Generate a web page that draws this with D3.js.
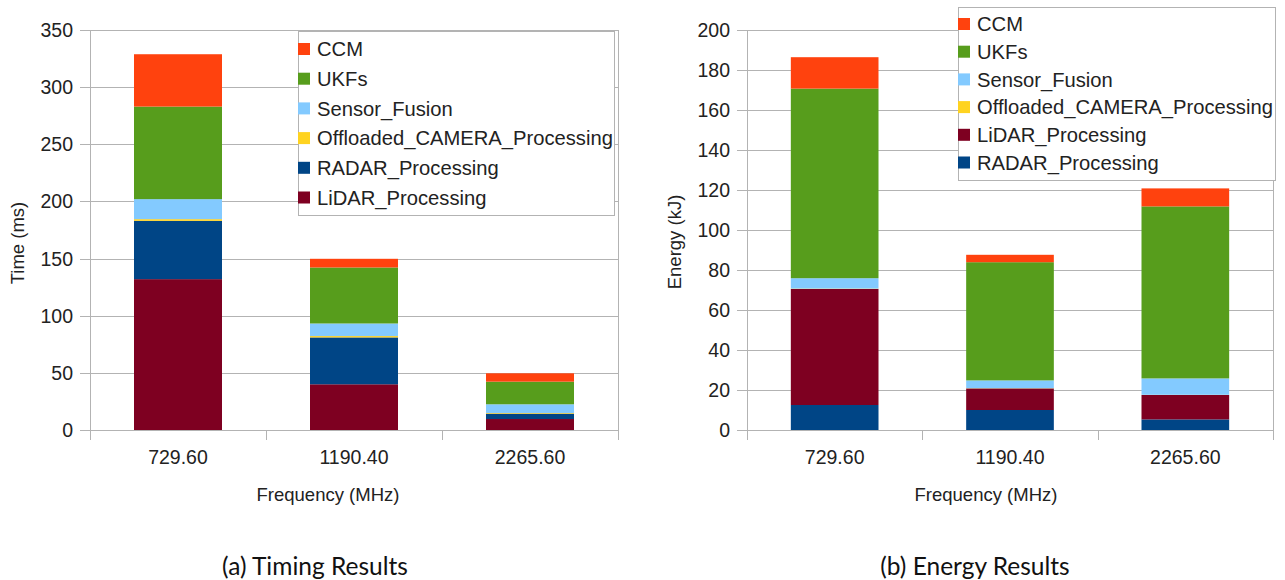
<!DOCTYPE html>
<html>
<head>
<meta charset="utf-8">
<script src="https://cdn.jsdelivr.net/npm/d3@7"></script>
<style>
  html, body { margin: 0; padding: 0; background: #fff; }
  svg { display: block; }
  .chart text { font-family: "Liberation Sans", Arial, sans-serif; fill: #222; }
  .caption { font-family: Lato, "Open Sans", sans-serif; fill: #111; }
</style>
</head>
<body>
<svg id="fig" width="1285" height="580"></svg>
<script>
// Frequencies shared by both panels
const frequencies = ["729.60", "1190.40", "2265.60"];

// (a) execution time per stage, ms
const timeLiDAR   = [132, 40, 9.6];
const timeRADAR   = [51, 41, 4.7];
const timeCamera  = [1.5, 1.2, 0.6];
const timeFusion  = [17.5, 11, 7.6];
const timeUKF     = [81, 49, 19.8];
const timeCCM     = [45.8, 7.6, 7.3];
const timeTicks   = [0, 50, 100, 150, 200, 250, 300, 350];

// (b) energy per stage, kJ
const energyRADAR  = [12.5, 10, 5.3];
const energyLiDAR  = [58, 10.8, 12.2];
const energyCamera = [0.2, 0.1, 0.1];
const energyFusion = [5.2, 3.9, 8.2];
const energyUKF    = [94.8, 59.1, 86];
const energyCCM    = [15.7, 3.7, 9];
const energyTicks  = [0, 20, 40, 60, 80, 100, 120, 140, 160, 180, 200];

const colors = {
  "CCM": "#ff420e",
  "UKFs": "#579d1c",
  "Sensor_Fusion": "#83caff",
  "Offloaded_CAMERA_Processing": "#ffd320",
  "RADAR_Processing": "#004586",
  "LiDAR_Processing": "#7e0021"
};

const svg = d3.select("#fig");
const grid = "#b3b3b3";

function drawPanel(cfg) {
  const g = svg.append("g").attr("class", "chart");
  const x = d3.scaleBand().domain(frequencies)
    .range([cfg.left, cfg.right]).paddingInner(0.5).paddingOuter(0.25);
  const y = d3.scaleLinear().domain([0, cfg.max]).range([cfg.bottom, cfg.top]);

  // horizontal grid lines, extended left as tick marks
  g.selectAll("line.grid").data(cfg.ticks).join("line")
    .attr("x1", cfg.left - 10).attr("x2", cfg.right)
    .attr("y1", d => Math.round(y(d)) + 0.5).attr("y2", d => Math.round(y(d)) + 0.5)
    .attr("stroke", grid).attr("stroke-width", 1);

  // y tick labels
  g.selectAll("text.ytick").data(cfg.ticks).join("text")
    .attr("x", cfg.left - 17).attr("y", d => y(d))
    .attr("dy", "0.36em").attr("text-anchor", "end")
    .style("font-size", "19.5px").text(d => d);

  // category boundaries on x axis
  const step = x.step();
  const bounds = d3.range(frequencies.length + 1).map(i => cfg.left + i * step);
  g.selectAll("line.xtick").data(bounds).join("line")
    .attr("x1", d => Math.round(d) + 0.5).attr("x2", d => Math.round(d) + 0.5)
    .attr("y1", cfg.bottom).attr("y2", cfg.bottom + 10)
    .attr("stroke", grid);
  // left axis and right wall
  [cfg.left, cfg.right].forEach(px => {
    g.append("line")
      .attr("x1", Math.round(px) + 0.5).attr("x2", Math.round(px) + 0.5)
      .attr("y1", cfg.top).attr("y2", cfg.bottom + 10).attr("stroke", grid);
  });

  // stacked bars
  const rows = frequencies.map((f, i) => {
    const r = { freq: f };
    cfg.series.forEach(s => { r[s.name] = s.values[i]; });
    return r;
  });
  const stack = d3.stack().keys(cfg.series.map(s => s.name))(rows);
  g.selectAll("g.layer").data(stack).join("g")
    .attr("fill", d => colors[d.key])
    .selectAll("rect").data(d => d).join("rect")
    .attr("x", d => x(d.data.freq))
    .attr("width", x.bandwidth())
    .attr("y", d => y(d[1]))
    .attr("height", d => y(d[0]) - y(d[1]));

  // x tick labels
  g.selectAll("text.xlab").data(frequencies).join("text")
    .attr("x", d => x(d) + x.bandwidth() / 2).attr("y", 464)
    .attr("text-anchor", "middle").style("font-size", "19.5px").text(d => d);

  // axis titles
  g.append("text").attr("x", cfg.xTitleX).attr("y", 501)
    .attr("text-anchor", "middle").style("font-size", "18.5px").text("Frequency (MHz)");
  g.append("text")
    .attr("transform", `translate(${cfg.yTitleX},${cfg.yTitleY}) rotate(-90)`)
    .attr("text-anchor", "middle").style("font-size", "18.5px").text(cfg.yTitle);

  // legend
  const lg = g.append("g");
  lg.append("rect")
    .attr("x", cfg.legend.x + 0.5).attr("y", cfg.legend.y + 0.5)
    .attr("width", cfg.legend.w).attr("height", cfg.legend.h)
    .attr("fill", "#fff").attr("stroke", grid);
  const items = lg.selectAll("g.item").data(cfg.legendOrder).join("g")
    .attr("transform", (d, i) => `translate(${cfg.legend.x},${cfg.legend.first + i * cfg.legend.gap})`);
  items.append("rect").attr("x", 0).attr("y", -6).attr("width", 12).attr("height", 12)
    .attr("fill", d => colors[d]);
  items.append("text").attr("x", 19).attr("y", 0).attr("dy", "0.36em")
    .style("font-size", "20.2px").text(d => d);

  // caption
  svg.append("text").attr("class", "caption")
    .attr("x", cfg.captionX).attr("y", 575).attr("text-anchor", "middle")
    .style("font-size", "24.5px").text(cfg.caption);
}

drawPanel({
  left: 90, right: 618, top: 30, bottom: 430, max: 350, ticks: timeTicks,
  series: [
    { name: "LiDAR_Processing", values: timeLiDAR },
    { name: "RADAR_Processing", values: timeRADAR },
    { name: "Offloaded_CAMERA_Processing", values: timeCamera },
    { name: "Sensor_Fusion", values: timeFusion },
    { name: "UKFs", values: timeUKF },
    { name: "CCM", values: timeCCM }
  ],
  legendOrder: ["CCM", "UKFs", "Sensor_Fusion", "Offloaded_CAMERA_Processing", "RADAR_Processing", "LiDAR_Processing"],
  legend: { x: 298, y: 31, w: 316, h: 184, first: 49, gap: 29.7 },
  xTitleX: 328, yTitleX: 24, yTitleY: 243, yTitle: "Time (ms)",
  captionX: 315, caption: "(a) Timing Results"
});

drawPanel({
  left: 747, right: 1273, top: 30, bottom: 430, max: 200, ticks: energyTicks,
  series: [
    { name: "RADAR_Processing", values: energyRADAR },
    { name: "LiDAR_Processing", values: energyLiDAR },
    { name: "Offloaded_CAMERA_Processing", values: energyCamera },
    { name: "Sensor_Fusion", values: energyFusion },
    { name: "UKFs", values: energyUKF },
    { name: "CCM", values: energyCCM }
  ],
  legendOrder: ["CCM", "UKFs", "Sensor_Fusion", "Offloaded_CAMERA_Processing", "LiDAR_Processing", "RADAR_Processing"],
  legend: { x: 958, y: 7, w: 317, h: 173, first: 24, gap: 27.7 },
  xTitleX: 986, yTitleX: 681, yTitleY: 242, yTitle: "Energy (kJ)",
  captionX: 975, caption: "(b) Energy Results"
});
</script>
</body>
</html>
